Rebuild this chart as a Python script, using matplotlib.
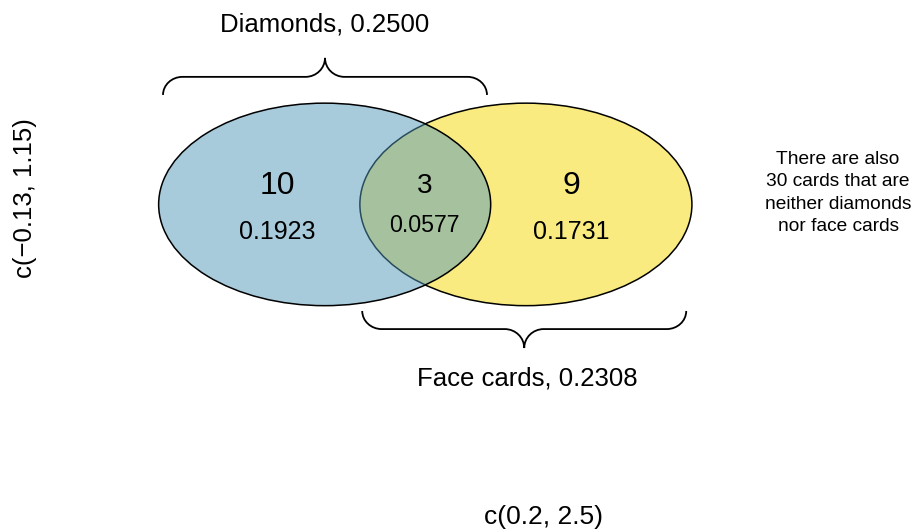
import matplotlib.pyplot as plt
from matplotlib.patches import Ellipse, PathPatch
from matplotlib.path import Path

plt.rcParams['font.family'] = ['Liberation Sans', 'DejaVu Sans']

# counts / probabilities: diamonds only, both, face cards only
region_counts = [10, 3, 9]
region_probs = [0.1923, 0.0577, 0.1731]
set_names = ["Diamonds", "Face cards"]
set_probs = [0.2500, 0.2308]
n_neither = 30
xlab = "c(0.2, 2.5)"
ylab = "c(\u22120.13, 1.15)"

fig = plt.figure(figsize=(9.22, 5.29), dpi=100)
ax = fig.add_axes([0, 0, 1, 1])
ax.set_xlim(-0.068, 2.681)
ax.set_ylim(-0.435, 1.4066)
ax.axis('off')

# circles (drawn yellow first, blue translucent on top)
ax.add_patch(Ellipse((1.5, 0.695), 0.99, 0.705, facecolor='#F9EB80',
                     edgecolor='black', lw=1.1))
ax.add_patch(Ellipse((0.9, 0.695), 0.99, 0.705, facecolor=(0.325, 0.6, 0.733, 0.5),
                     edgecolor='black', lw=1.1))

# region labels
xs = [0.76, 1.197, 1.635]
for i in range(3):
    big = 20 if i == 1 else 23
    small = 16.7 if i == 1 else 18
    ax.text(xs[i], 0.76, str(region_counts[i]), fontsize=big, ha='center', va='center')
    ax.text(xs[i], 0.598 if i != 1 else 0.622, f"{region_probs[i]:.4f}",
            fontsize=small, ha='center', va='center')


def brace(x0, x1, yend, yh, ytip, dx):
    xm = (x0 + x1) / 2
    k = 0.552
    def corner(s, e, c):
        c1 = (s[0] + k * (c[0] - s[0]), s[1] + k * (c[1] - s[1]))
        c2 = (e[0] + k * (c[0] - e[0]), e[1] + k * (c[1] - e[1]))
        return [c1, c2, e]
    verts = [(x0, yend)]
    codes = [Path.MOVETO]
    verts += corner((x0, yend), (x0 + dx, yh), (x0, yh)); codes += [Path.CURVE4] * 3
    verts += [(xm - dx, yh)]; codes += [Path.LINETO]
    verts += corner((xm - dx, yh), (xm, ytip), (xm, yh)); codes += [Path.CURVE4] * 3
    verts += corner((xm, ytip), (xm + dx, yh), (xm, yh)); codes += [Path.CURVE4] * 3
    verts += [(x1 - dx, yh)]; codes += [Path.LINETO]
    verts += corner((x1 - dx, yh), (x1, yend), (x1, yh)); codes += [Path.CURVE4] * 3
    ax.add_patch(PathPatch(Path(verts, codes), facecolor='none', edgecolor='black',
                           lw=1.3, capstyle='butt'))


brace(0.418, 1.384, 1.076, 1.139, 1.205, 0.058)
brace(1.012, 1.978, 0.324, 0.261, 0.195, 0.058)

ax.text(0.901, 1.32, f"{set_names[0]}, {set_probs[0]:.4f}", fontsize=18.5,
        ha='center', va='center')
ax.text(1.504, 0.09, f"{set_names[1]}, {set_probs[1]:.4f}", fontsize=18.5,
        ha='center', va='center')

ax.text(2.431, 0.735, f"There are also\n{n_neither} cards that are\nneither diamonds\nnor face cards",
        fontsize=13.8, ha='center', va='center', multialignment='center', linespacing=1.4)

ax.text(1.551, -0.393, xlab, fontsize=19, ha='center', va='center')
ax.text(0.0066, 0.717, ylab, fontsize=18.5, ha='center', va='center', rotation=90)

fig.savefig("out.png", dpi=100)
